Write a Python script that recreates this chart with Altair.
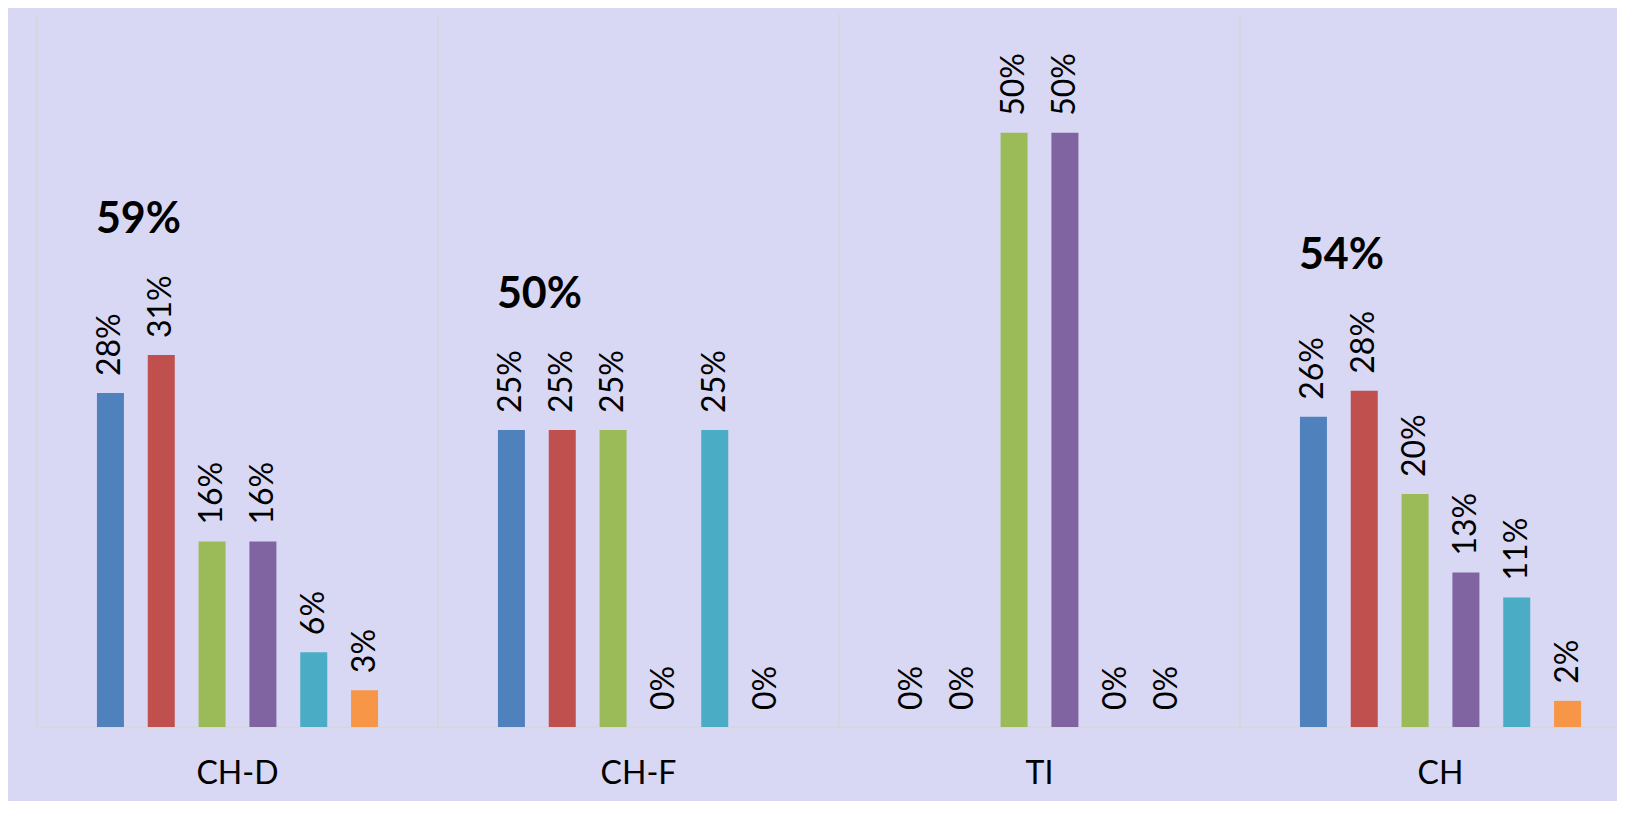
import altair as alt
import pandas as pd

categories = ["CH-D", "CH-F", "TI", "CH"]
series = ["S1", "S2", "S3", "S4", "S5", "S6"]
colors = ["#4F81BD", "#C0504D", "#9BBB59", "#8064A2", "#4BACC6", "#F79646"]

ch_d = [28.1, 31.3, 15.6, 15.6, 6.3, 3.1]
ch_f = [25.0, 25.0, 25.0, 0.0, 25.0, 0.0]
ti = [0.0, 0.0, 50.0, 50.0, 0.0, 0.0]
ch = [26.1, 28.3, 19.6, 13.0, 10.9, 2.2]

all_vals = [ch_d, ch_f, ti, ch]

rows = []
for cat, vals in zip(categories, all_vals):
    for s, v in zip(series, vals):
        rows.append({"cat": cat, "series": s, "value": v})
df = pd.DataFrame(rows)

tot_rows = []
for cat, vals in zip(categories, all_vals):
    total = vals[0] + vals[1]
    if total > 0:
        tot_rows.append({"cat": cat, "series": series[0],
                         "top": max(vals[0], vals[1]), "total": total})
df_tot = pd.DataFrame(tot_rows)
df_sep = pd.DataFrame({"cat": categories})

FONT = "Lato"
GRID = "#D6D6DE"

x_enc = alt.X("cat:N", sort=categories, title=None,
              scale=alt.Scale(domain=categories, range=[0, 1604],
                              paddingInner=0, paddingOuter=0),
              axis=alt.Axis(labelAngle=0, labelAlign="center",
                            labelFont=FONT, labelFontSize=32,
                            labelColor="#000000", ticks=False,
                            domainColor=GRID, domainWidth=2,
                            labelPadding=46, grid=False))
xo_enc = alt.XOffset("series:N", sort=series,
                     scale=alt.Scale(domain=series, paddingInner=0,
                                     paddingOuter=0.945))
y_scale = alt.Scale(domain=[0, 60])

base = alt.Chart(df)

seps = alt.Chart(df_sep).mark_rule(color=GRID, strokeWidth=2).encode(
    x=alt.X("cat:N", sort=categories, bandPosition=0)
)

bars = base.mark_bar(width=27).encode(
    x=x_enc,
    xOffset=xo_enc,
    y=alt.Y("value:Q", scale=y_scale, axis=None),
    color=alt.Color("series:N", sort=series,
                    scale=alt.Scale(domain=series, range=colors), legend=None),
)

labels = base.transform_calculate(
    label="format(datum.value / 100, '.0%')"
).mark_text(angle=270, align="left", baseline="middle", dx=17,
            font=FONT, fontSize=32, color="#000000").encode(
    x=alt.X("cat:N", sort=categories),
    xOffset=alt.XOffset("series:N", sort=series),
    y=alt.Y("value:Q", scale=y_scale),
    text="label:N",
)

totals = alt.Chart(df_tot).transform_calculate(
    label="format(round(datum.total) / 100, '.0%')"
).mark_text(align="center", baseline="middle", dx=28, dy=-135,
            font=FONT, fontSize=43, fontWeight="bold", color="#000000").encode(
    x=alt.X("cat:N", sort=categories),
    xOffset=alt.XOffset("series:N", sort=series),
    y=alt.Y("top:Q", scale=y_scale),
    text="label:N",
)

chart = alt.layer(seps, bars, labels, totals).properties(
    width=1580,
    height=713,
    background="#D8D8F4",
    padding={"left": 29, "top": 6, "right": 0, "bottom": 74},
    autosize=alt.AutoSizeParams(type="none"),
).configure_view(stroke=None)

chart.save("out.html", embed_options={"renderer": "svg", "actions": False})
